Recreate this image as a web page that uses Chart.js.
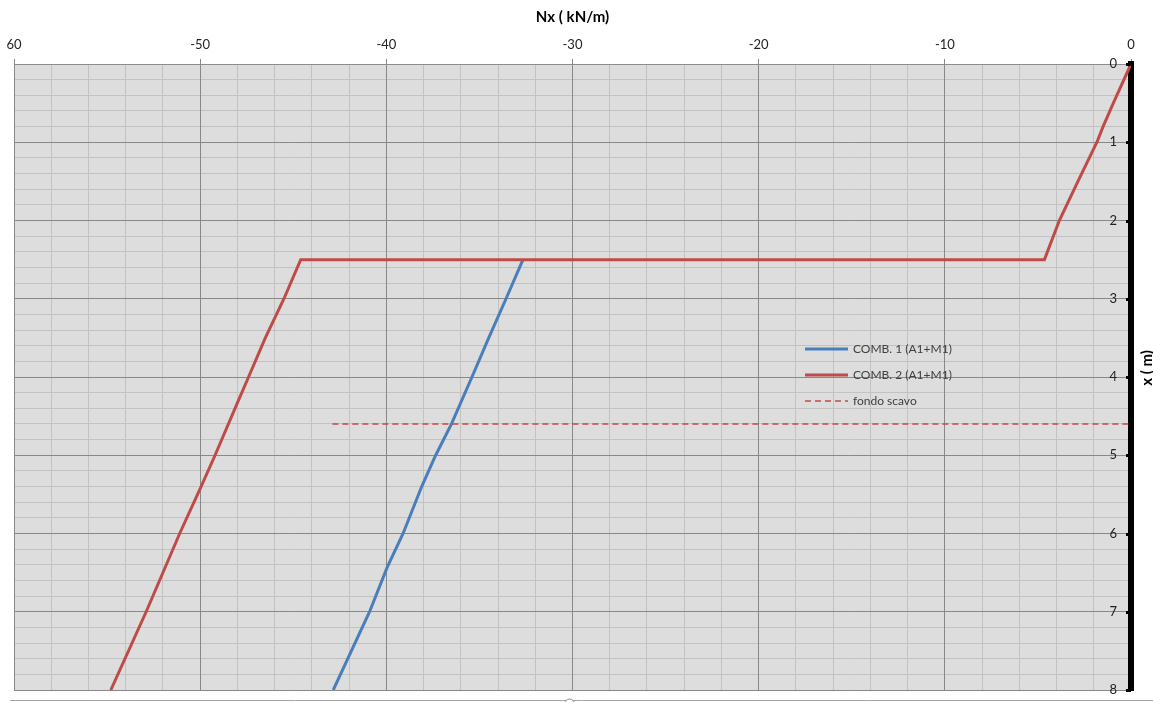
<!DOCTYPE html>
<html>
<head>
<meta charset="utf-8">
<script src="https://cdn.jsdelivr.net/npm/chart.js@4.4.1/dist/chart.umd.min.js"></script>
<style>
  html, body { margin: 0; padding: 0; background: #ffffff; }
  #wrap { width: 1153px; height: 702px; }
</style>
</head>
<body>
<div id="wrap"><canvas id="c" width="1153" height="702"></canvas></div>
<script>
// Axial force Nx (kN/m) against depth x (m)
const seriesNames = ['COMB. 1 (A1+M1)', 'COMB. 2 (A1+M1)', 'fondo scavo'];

const depthComb1 = [2.5, 3.0, 3.5, 4.0, 4.6, 5.0, 5.4, 6.0, 6.43, 7.0, 8.0];
const nxComb1 = [-32.66, -33.57, -34.5, -35.4, -36.5, -37.35, -38.1, -39.1, -39.95, -40.9, -42.85];

const depthComb2 = [0, 0.5, 0.8, 1.0, 1.5, 2.0, 2.5, 2.5, 3.0, 3.5, 4.0, 4.33, 5.0, 5.4, 6.0, 7.0, 8.0];
const nxComb2 = [0, -0.95, -1.5, -1.83, -2.85, -3.85, -4.65, -44.6, -45.5, -46.5, -47.4, -48.0, -49.2, -49.95, -51.1, -52.9, -54.8];

const depthScavo = [4.6, 4.6];
const nxScavo = [-42.9, 0];

const xTickValues = [-60, -50, -40, -30, -20, -10, 0];
const xTickLabels = ['60', '-50', '-40', '-30', '-20', '-10', '0'];
const yTickValues = [0, 1, 2, 3, 4, 5, 6, 7, 8];
const yTickLabels = ['0', '1', '2', '3', '4', '5', '6', '7', '8'];

const FONT = 'Lato, "Open Sans", sans-serif';
const BLUE = '#4a7ebb';
const RED = '#be4b48';

const toPoints = (xs, ys) => xs.map((v, i) => ({ x: v, y: ys[i] }));
const labelFor = (values, labels) => v => {
  const i = values.findIndex(t => Math.abs(t - v) < 1e-6);
  return i < 0 ? '' : labels[i];
};
const noPad = s => { s.paddingTop = 0; s.paddingBottom = 0; s.paddingLeft = 0; s.paddingRight = 0; };

const sheet = {
  id: 'sheet',
  beforeDraw(chart) {
    const { ctx, chartArea: a } = chart;
    ctx.save();
    ctx.fillStyle = '#ffffff';
    ctx.fillRect(0, 0, chart.width, chart.height);
    ctx.fillStyle = '#dddddd';
    ctx.fillRect(a.left, a.top, a.right - a.left, a.bottom - a.top);
    ctx.restore();
  },
  afterDraw(chart) {
    const { ctx, chartArea: a, scales } = chart;
    const ys = scales.y;
    ctx.save();

    // small tick marks on the depth axis
    ctx.fillStyle = '#000000';
    ys.ticks.forEach(t => {
      const py = Math.round(ys.getPixelForValue(t.value));
      ctx.fillRect(a.right - 5, py - 1, 5, 3);
    });

    // depth axis title
    ctx.save();
    ctx.translate(1147, 368);
    ctx.rotate(-Math.PI / 2);
    ctx.font = 'bold 15px ' + FONT;
    ctx.fillStyle = '#000000';
    ctx.textAlign = 'center';
    ctx.textBaseline = 'middle';
    ctx.fillText('x ( m)', 0, 0);
    ctx.restore();

    // legend
    const entries = chart.data.datasets;
    const lx = 805, ly = 349, gap = 26;
    ctx.font = '12px ' + FONT;
    ctx.textAlign = 'left';
    ctx.textBaseline = 'middle';
    entries.forEach((ds, i) => {
      const y = ly + i * gap;
      ctx.strokeStyle = ds.borderColor;
      ctx.lineWidth = ds.legendWidth;
      ctx.setLineDash(ds.borderDash || []);
      ctx.beginPath();
      ctx.moveTo(lx, y);
      ctx.lineTo(lx + 43, y);
      ctx.stroke();
      ctx.setLineDash([]);
      ctx.fillStyle = '#404040';
      ctx.fillText(ds.label, lx + 48, y);
    });

    // sheet edge below the chart
    ctx.strokeStyle = '#a6a6a6';
    ctx.lineWidth = 1;
    ctx.beginPath();
    ctx.moveTo(10, 700.5);
    ctx.lineTo(chart.width, 700.5);
    ctx.stroke();
    ctx.fillStyle = '#ffffff';
    ctx.strokeStyle = '#8c8c8c';
    ctx.beginPath();
    ctx.arc(569.5, 704, 5, 0, Math.PI * 2);
    ctx.fill();
    ctx.stroke();

    ctx.restore();
  }
};

new Chart(document.getElementById('c'), {
  type: 'scatter',
  data: {
    datasets: [
      {
        label: seriesNames[0],
        data: toPoints(nxComb1, depthComb1),
        showLine: true,
        borderColor: BLUE,
        borderWidth: 3,
        legendWidth: 3,
        pointRadius: 0,
        order: 2,
        xAxisID: 'x', yAxisID: 'y'
      },
      {
        label: seriesNames[1],
        data: toPoints(nxComb2, depthComb2),
        showLine: true,
        borderColor: RED,
        borderWidth: 3,
        legendWidth: 3,
        pointRadius: 0,
        order: 1,
        xAxisID: 'x', yAxisID: 'y'
      },
      {
        label: seriesNames[2],
        data: toPoints(nxScavo, depthScavo),
        showLine: true,
        borderColor: RED,
        borderWidth: 1.5,
        legendWidth: 1.5,
        borderDash: [6, 4],
        pointRadius: 0,
        order: 0,
        xAxisID: 'x', yAxisID: 'y'
      }
    ]
  },
  options: {
    responsive: false,
    animation: false,
    layout: { padding: { left: 14, right: 0, top: 0, bottom: 12 } },
    plugins: { legend: { display: false }, tooltip: { enabled: false } },
    scales: {
      x: {
        type: 'linear',
        position: 'top',
        min: -60, max: 0,
        afterFit: s => { s.height = 64; noPad(s); },
        ticks: {
          stepSize: 10,
          padding: 6,
          color: '#222222',
          font: { family: FONT, size: 13 },
          callback: labelFor(xTickValues, xTickLabels)
        },
        grid: { color: '#888888', lineWidth: 1, tickLength: 5, z: -1 },
        border: { display: true, color: '#8c8c8c', width: 1 },
        title: {
          display: true,
          text: 'Nx ( kN/m)',
          color: '#000000',
          font: { family: FONT, size: 15, weight: 'bold' },
          padding: { top: 8, bottom: 0 }
        }
      },
      xMinor: {
        type: 'linear',
        position: 'top',
        min: -60, max: 0,
        afterFit: s => { s.height = 0; noPad(s); },
        ticks: { display: false, stepSize: 2 },
        grid: { color: '#c2c2c2', lineWidth: 1, drawTicks: false, z: -2 },
        border: { display: false }
      },
      y: {
        type: 'linear',
        position: 'right',
        reverse: true,
        min: 0, max: 8,
        afterFit: s => { s.width = 22; noPad(s); },
        ticks: {
          stepSize: 1,
          mirror: true,
          padding: -14,
          color: '#222222',
          font: { family: FONT, size: 13 },
          callback: labelFor(yTickValues, yTickLabels)
        },
        grid: { color: '#888888', lineWidth: 1, drawTicks: false, z: -1 },
        border: { display: true, color: '#000000', width: 6 }
      },
      yMinor: {
        type: 'linear',
        position: 'right',
        reverse: true,
        min: 0, max: 8,
        afterFit: s => { s.width = 0; noPad(s); },
        ticks: { display: false, stepSize: 0.2 },
        grid: { color: '#c2c2c2', lineWidth: 1, drawTicks: false, z: -2 },
        border: { display: false }
      }
    }
  },
  plugins: [sheet]
});
</script>
</body>
</html>
